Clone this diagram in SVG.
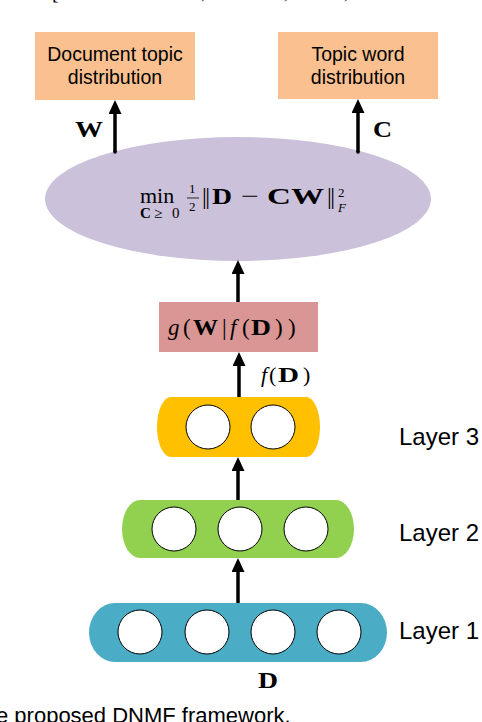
<svg xmlns="http://www.w3.org/2000/svg" width="482" height="722" viewBox="0 0 482 722">
<style>
.sans{font-family:"Liberation Sans",Arial,sans-serif;fill:#000}
.m{font-family:"Liberation Serif","DejaVu Serif",serif;fill:#000}
.b{font-weight:bold}
.i{font-style:italic}
.conn{stroke:#000;stroke-width:3.5;fill:none;marker-end:url(#ah)}
.cell{fill:#fff;stroke:#000;stroke-width:1}
</style>
<defs>
<marker id="ah" markerUnits="userSpaceOnUse" viewBox="0 0 14 13" markerWidth="14" markerHeight="13" refX="4" refY="6.5" orient="auto">
<path d="M0,0 L14,6.5 L0,13 z" fill="#000"/>
</marker>
</defs>
<rect width="482" height="722" fill="#fff"/>
<g id="topcut" class="m" font-size="20">
<text x="52" y="-1">[</text>
<text x="201" y="-2">,</text>
<text x="284" y="-2">,</text>
<text x="344" y="-2">,</text>
</g>
<g id="doc-topic">
<rect x="35" y="32" width="160" height="68" fill="#FAC090"/>
<text class="sans" font-size="19.5" text-anchor="middle" x="115" y="61">Document topic</text>
<text class="sans" font-size="19.5" text-anchor="middle" x="115" y="84">distribution</text>
</g>
<g id="topic-word">
<rect x="278" y="32" width="160" height="67" fill="#FAC090"/>
<text class="sans" font-size="19.5" text-anchor="middle" x="358" y="61">Topic word</text>
<text class="sans" font-size="19.5" text-anchor="middle" x="358" y="84">distribution</text>
</g>
<g id="objective">
<ellipse cx="238" cy="199" rx="193" ry="62" fill="#CCC1DA"/>
<text class="m" font-size="22" x="140" y="203">min</text>
<text class="m" font-size="15" y="218"><tspan class="b" x="140" textLength="12">C</tspan><tspan x="154">≥</tspan><tspan x="172">0</tspan></text>
<text class="m" font-size="13" x="189" y="193">1</text>
<line x1="187" y1="198" x2="199" y2="198" stroke="#000" stroke-width="0.8"/>
<text class="m" font-size="13" x="189" y="211">2</text>
<text class="m" font-size="24" y="204"><tspan x="202" letter-spacing="-1.5">||</tspan><tspan class="b" x="212" textLength="20" lengthAdjust="spacingAndGlyphs">D</tspan><tspan x="241" textLength="18" lengthAdjust="spacingAndGlyphs">−</tspan><tspan class="b" x="267" textLength="57" lengthAdjust="spacingAndGlyphs">CW</tspan><tspan x="327" letter-spacing="-1.5">||</tspan></text>
<text class="m" font-size="13" x="338" y="197">2</text>
<text class="m i" font-size="13" x="338" y="212">F</text>
</g>
<g id="g-node">
<rect x="159" y="302" width="159" height="50" fill="#D99694"/>
<text class="m" font-size="23" y="335"><tspan class="i" x="168">g</tspan><tspan x="183">(</tspan><tspan class="b" x="193" textLength="25" lengthAdjust="spacingAndGlyphs">W</tspan><tspan x="222">|</tspan><tspan class="i" x="230">f</tspan><tspan x="242">(</tspan><tspan class="b" x="251" textLength="20" lengthAdjust="spacingAndGlyphs">D</tspan><tspan x="275">)</tspan><tspan x="288">)</tspan></text>
</g>
<g id="layer3">
<rect x="157" y="397" width="163" height="60" rx="14" ry="30" fill="#FFC000"/>
<circle class="cell" cx="208" cy="427" r="22"/>
<circle class="cell" cx="273" cy="427" r="22"/>
<text class="sans" font-size="24" x="399" y="445">Layer 3</text>
</g>
<g id="layer2">
<rect x="122" y="500" width="232" height="58" rx="18" ry="29" fill="#92D050"/>
<circle class="cell" cx="174" cy="529" r="22"/>
<circle class="cell" cx="240" cy="529" r="22"/>
<circle class="cell" cx="306" cy="529" r="22"/>
<text class="sans" font-size="24" x="399" y="541">Layer 2</text>
</g>
<g id="layer1">
<rect x="89" y="603" width="298" height="59" rx="26" ry="29.5" fill="#4BACC6"/>
<circle class="cell" cx="140" cy="632" r="22"/>
<circle class="cell" cx="207" cy="632" r="22"/>
<circle class="cell" cx="273" cy="632" r="22"/>
<circle class="cell" cx="339" cy="632" r="22"/>
<text class="sans" font-size="24" x="399" y="639">Layer 1</text>
</g>
<g id="connectors">
<line class="conn" x1="115" y1="152" x2="115" y2="110"/>
<line class="conn" x1="358" y1="152" x2="358" y2="109"/>
<line class="conn" x1="238" y1="302" x2="238" y2="270"/>
<line class="conn" x1="239" y1="397" x2="239" y2="362"/>
<line class="conn" x1="238" y1="500" x2="238" y2="467"/>
<line class="conn" x1="238" y1="603" x2="238" y2="568"/>
<circle cx="115" cy="152" r="1.8" fill="#000"/>
<circle cx="358" cy="152" r="1.8" fill="#000"/>
</g>
<g id="labels">
<text class="m b" font-size="23" x="75" y="137" textLength="28" lengthAdjust="spacingAndGlyphs">W</text>
<text class="m b" font-size="23" x="373" y="137" textLength="19" lengthAdjust="spacingAndGlyphs">C</text>
<text class="m" font-size="22" y="382"><tspan class="i" x="261">f</tspan><tspan x="269">(</tspan><tspan class="b" x="278" textLength="21" lengthAdjust="spacingAndGlyphs">D</tspan><tspan x="303">)</tspan></text>
<text class="m b" font-size="24" x="258" y="688" textLength="20" lengthAdjust="spacingAndGlyphs">D</text>
</g>
<text class="sans" font-size="22" x="-4" y="723">e proposed DNMF framework.</text>
</svg>
